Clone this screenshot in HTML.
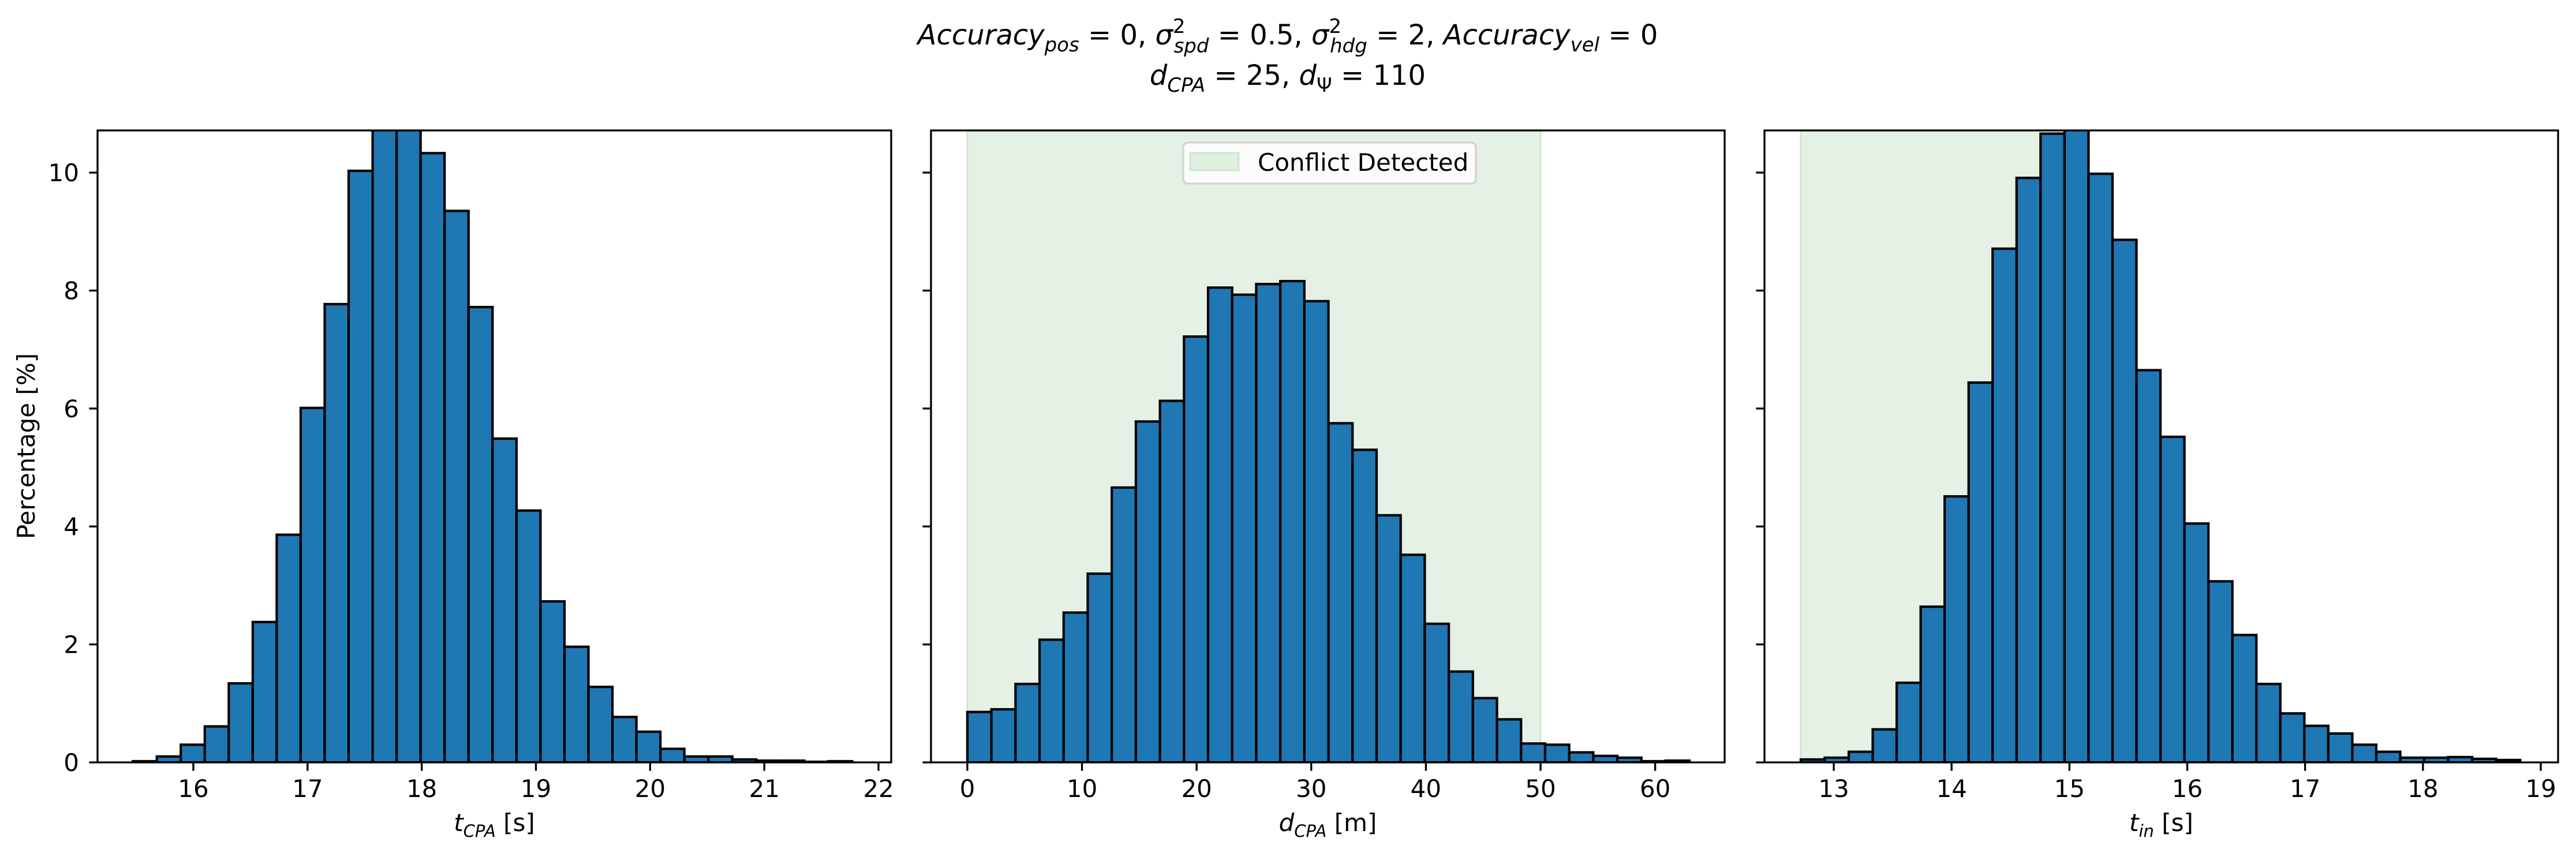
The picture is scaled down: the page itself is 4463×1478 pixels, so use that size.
<!DOCTYPE html>
<html><head><meta charset="utf-8">
<style>
html,body{margin:0;padding:0;background:#fff;}
svg{display:block;font-family:"DejaVu Sans","Liberation Sans",sans-serif;}
</style></head>
<body>
<svg id="fig" xmlns="http://www.w3.org/2000/svg" width="4463" height="1478" viewBox="0 0 4463 1478">
<rect width="4463" height="1478" fill="#fff"/>
<g font-size="48" text-anchor="middle" fill="#000">
<text x="2231" y="77" font-style="italic">Accuracy<tspan font-size="34" dy="12">pos</tspan><tspan font-style="normal" dy="-12"> = 0, </tspan>σ<tspan font-size="34" dy="-20" font-style="normal">2</tspan><tspan font-size="34" dx="-20" dy="34">spd</tspan><tspan font-style="normal" dy="-14"> = 0.5, </tspan>σ<tspan font-size="34" dy="-20" font-style="normal">2</tspan><tspan font-size="34" dx="-20" dy="34">hdg</tspan><tspan font-style="normal" dy="-14"> = 2, </tspan>Accuracy<tspan font-size="34" dy="12">vel</tspan><tspan font-style="normal" dy="-12"> = 0</tspan></text>
<text x="2231" y="147" font-style="italic">d<tspan font-size="34" dy="12">CPA</tspan><tspan font-style="normal" dy="-12"> = 25, </tspan>d<tspan font-size="34" dy="12" font-style="normal">Ψ</tspan><tspan font-style="normal" dy="-12"> = 110</tspan></text>
</g>
<g id="plots"></g>
</svg>
<script>
// Panel 1: t_CPA
const tcpaStart = 15.47, tcpaWidth = 0.21;
const tcpaValues = [0.02,0.1,0.3,0.61,1.34,2.38,3.86,6.01,7.77,10.03,11.0,11.0,10.33,9.35,7.72,5.49,4.27,2.73,1.96,1.28,0.77,0.52,0.23,0.1,0.1,0.05,0.03,0.03,0.01,0.02];
const tcpaTicks = [16,17,18,19,20,21,22];
// Panel 2: d_CPA
const dcpaStart = 0, dcpaWidth = 2.1;
const dcpaValues = [0.855,0.9,1.33,2.08,2.54,3.2,4.66,5.78,6.13,7.22,8.05,7.93,8.11,8.16,7.82,5.75,5.3,4.19,3.52,2.35,1.54,1.09,0.73,0.32,0.30,0.17,0.11,0.08,0.02,0.03];
const dcpaTicks = [0,10,20,30,40,50,60];
const dcpaConflict = [0,50];
// Panel 3: t_in
const tinStart = 12.72, tinWidth = 0.2035;
const tinValues = [0.05,0.08,0.18,0.56,1.35,2.64,4.51,6.44,8.71,9.91,10.66,11.0,9.98,8.86,6.65,5.52,4.05,3.07,2.16,1.33,0.83,0.62,0.49,0.30,0.18,0.08,0.08,0.09,0.06,0.04];
const tinTicks = [13,14,15,16,17,18,19];
const tinConflict = [12.72,14.96];
const yTicks = [0,2,4,6,8,10];

const NS = "http://www.w3.org/2000/svg";
const plotRoot = document.getElementById('plots');
function mk(tag, attrs, parent){
  const e = document.createElementNS(NS, tag);
  for (const k in attrs) e.setAttribute(k, attrs[k]);
  (parent||plotRoot).appendChild(e);
  return e;
}
const axTop = 226, axBottom = 1321, yMax = 10.715;
function Y(v){ return axBottom - v/yMax*(axBottom-axTop); }

function panel(idx, left, right, xmin, xmax, start, width, values, ticks, conflict, xlabelMain, xlabelSub, unit){
  const X = v => left + (v - xmin)/(xmax - xmin)*(right-left);
  const g = mk('g', {});
  
  
  const cp = mk('clipPath', {id:'clip'+idx}, g);
  mk('rect', {x:left, y:axTop, width:right-left, height:axBottom-axTop}, cp);
  if (conflict){
    const r = mk('rect', {x:X(conflict[0]), y:axTop, width:X(conflict[1])-X(conflict[0]), height:axBottom-axTop, fill:'#e5f1e5', stroke:'#cfe6cf', 'stroke-width':3}, g);
    
    
  }
  const bars = mk('g', {'clip-path':'url(#clip'+idx+')'}, g);
  values.forEach((v,i)=>{
    const x0 = X(start + i*width), x1 = X(start + (i+1)*width);
    const b = mk('rect', {x:x0, y:Y(v), width:x1-x0, height:axBottom-Y(v), fill:'#1f77b4', stroke:'#000', 'stroke-width':4.2}, bars);
    
    
  });
  const ax = mk('rect', {x:left, y:axTop, width:right-left, height:axBottom-axTop, fill:'none', stroke:'#000', 'stroke-width':3.3}, g);
  
  
  ticks.forEach(t=>{
    const x = X(t);
    mk('line', {x1:x, x2:x, y1:axBottom, y2:axBottom+14.6, stroke:'#000', 'stroke-width':3.3}, g);
    const tl = mk('text', {x:x, y:1381, 'font-size':42, 'text-anchor':'middle'}, g);
    tl.textContent = t;
    
    
  });
  yTicks.forEach(t=>{
    const y = Y(t);
    mk('line', {x1:left-14.6, x2:left, y1:y, y2:y, stroke:'#000', 'stroke-width':3.3}, g);
    if (idx===1){
      const tl = mk('text', {x:137, y:y+15, 'font-size':42, 'text-anchor':'end'}, g);
      tl.textContent = t;
      
      
    }
  });
  const xl = mk('text', {x:(left+right)/2, y:1440, 'font-size':42, 'text-anchor':'middle'}, g);
  
  
  const s1 = mk('tspan', {'font-style':'italic'}, xl); s1.textContent = xlabelMain;
  const s2 = mk('tspan', {'font-style':'italic','font-size':29, dy:10}, xl); s2.textContent = xlabelSub;
  const s3 = mk('tspan', {dy:-10}, xl); s3.textContent = ' ' + unit;
}
panel(1, 169, 1544, 15.161, 22.111, tcpaStart, tcpaWidth, tcpaValues, tcpaTicks, null, 't', 'CPA', '[s]');
panel(2, 1613, 2988, -3.17, 66.06, dcpaStart, dcpaWidth, dcpaValues, dcpaTicks, dcpaConflict, 'd', 'CPA', '[m]');
panel(3, 3057, 4432, 12.412, 19.147, tinStart, tinWidth, tinValues, tinTicks, tinConflict, 't', 'in', '[s]');

const yl = mk('text', {x:60, y:773, 'font-size':42, 'text-anchor':'middle', transform:'rotate(-90 60 773)'});
yl.textContent = 'Percentage [%]';



const leg = mk('g', {});


mk('rect', {x:2050, y:247, width:507, height:71, rx:8, fill:'#fff', 'fill-opacity':0.8, stroke:'#d3d3d3', 'stroke-width':3.3}, leg);
const lp = mk('rect', {x:2062, y:265, width:84, height:30, fill:'#e0efe0', stroke:'#cfe6cf', 'stroke-width':3}, leg);


const lt = mk('text', {x:2179, y:296, 'font-size':42}, leg);
lt.textContent = 'Conflict Detected';


</script>
</body></html>
